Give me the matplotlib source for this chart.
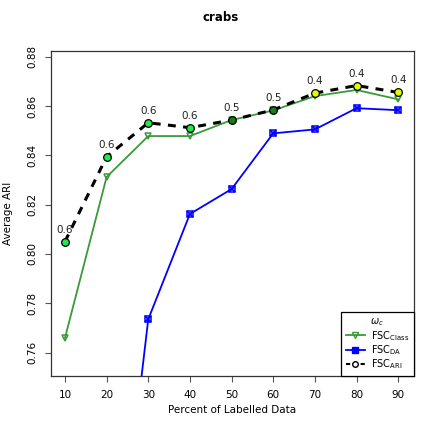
import matplotlib
matplotlib.use('Agg')
import matplotlib.pyplot as plt
from matplotlib.lines import Line2D

pct = [10, 20, 30, 40, 50, 60, 70, 80, 90]
fsc_class = [0.7659, 0.8312, 0.8478, 0.8478, 0.8543, 0.8582, 0.8640, 0.8665, 0.8627]
fsc_da = [0.600, 0.630, 0.7735, 0.8162, 0.8263, 0.8489, 0.8505, 0.8591, 0.8583]
fsc_ari = [0.8050, 0.8394, 0.8532, 0.8512, 0.8543, 0.8584, 0.8652, 0.8683, 0.8655]
omega = ['0.6', '0.6', '0.6', '0.6', '0.5', '0.5', '0.4', '0.4', '0.4']
omega_colors = {'0.6': '#22e84a', '0.5': '#1c7a1c', '0.4': '#e2ff00'}

green = '#3a9a3a'

fig = plt.figure(figsize=(4.41, 4.41), dpi=100)
ax = fig.add_axes([51 / 441, 1 - 376 / 441, 363 / 441, 325 / 441])

ax.plot(pct, fsc_class, color=green, lw=1.3, marker='v', ms=5, mfc='none', mec=green, mew=1.1, zorder=3)
ax.plot(pct, fsc_da, color='blue', lw=1.3, marker='s', ms=4.5, mfc='none', mec='blue', mew=1.1, zorder=3)
ax.plot(pct, fsc_da, ls='none', marker='x', ms=5, mec='blue', mew=1.3, zorder=3)
ax.plot(pct, fsc_ari, color='black', lw=2.2, ls=(0, (2.6, 2.4)), zorder=4)
for x, y, w in zip(pct, fsc_ari, omega):
    ax.plot(x, y, marker='o', ms=5.5, mfc=omega_colors[w], mec='black', mew=0.9, zorder=5)
    ax.annotate(w, (x, y), xytext=(0, 5), textcoords='offset points',
                ha='center', va='bottom', fontsize=7.5, color='#222222', zorder=6)

ax.set_xlim(6.65, 93.8)
ax.set_ylim(0.7505, 0.8823)
ax.set_xticks(pct)
ax.set_yticks([0.76, 0.78, 0.80, 0.82, 0.84, 0.86, 0.88])
ax.set_yticklabels(['0.76', '0.78', '0.80', '0.82', '0.84', '0.86', '0.88'], rotation=90, va='center')
ax.tick_params(labelsize=7.5, color='#555555', length=4, pad=6)
for s in ax.spines.values():
    s.set_color('#333333')
    s.set_linewidth(0.9)

ax.set_xlabel('Percent of Labelled Data', fontsize=7.5, labelpad=4)
ax.set_ylabel('Average ARI', fontsize=7.5, labelpad=10)
fig.suptitle('crabs', fontsize=8.5, fontweight='bold', y=0.975)

handles = [
    Line2D([], [], color=green, lw=1.3, marker='v', ms=5, mfc='none', mec=green),
    Line2D([], [], color='blue', lw=1.3, marker='s', ms=4.5, mfc='blue', mec='blue'),
    Line2D([], [], color='black', lw=1.5, ls=(0, (2, 1.5)), marker='o', ms=4, mfc='white', mec='black'),
]
leg = ax.legend(handles, [r'FSC$_{\mathrm{Class}}$', r'FSC$_{\mathrm{DA}}$', r'FSC$_{\mathrm{ARI}}$'],
                title=r'$\omega_c$', loc='lower right', fontsize=7, title_fontsize=7,
                borderaxespad=0, fancybox=False, edgecolor='black', framealpha=1,
                handlelength=2.0, handletextpad=0.6, labelspacing=0.05, borderpad=0.5)
leg.get_frame().set_linewidth(0.9)

fig.savefig('out.png', dpi=100)
plt.close(fig)
